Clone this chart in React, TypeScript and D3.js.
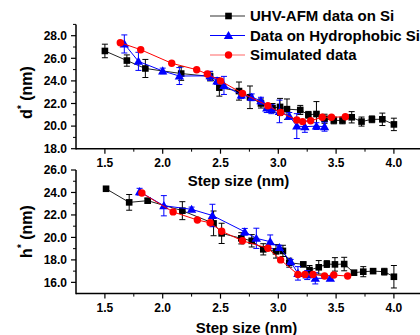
import React from "react";
import * as d3 from "d3";

// ---- Data ----
// Top panel (d*)
const topBlackX = [1.5, 1.69, 1.85, 2.16, 2.41, 2.49, 2.66, 2.755, 2.85, 2.95, 3.015, 3.075, 3.19, 3.26, 3.33, 3.4, 3.48, 3.555, 3.635, 3.72, 3.81, 3.9, 4.0];
const topBlackY = [26.65, 25.8, 25.1, 24.65, 24.4, 23.4, 23.1, 22.55, 22.0, 21.6, 21.7, 21.5, 21.43, 21.0, 21.07, 20.65, 20.5, 20.5, 20.78, 20.4, 20.6, 20.6, 20.15];
const topBlackE = [0.6, 0.5, 0.8, 0.6, 0.4, 0.75, 0.8, 1.0, 0.4, 0.4, 0.75, 0.9, 0.4, 0.3, 1.1, 0.4, 0.3, 0.3, 0.5, 0.4, 0.3, 0.55, 0.55];

const topBlueX = [1.668, 1.79, 2.0, 2.144, 2.41, 2.47, 2.53, 2.68, 2.77, 2.85, 2.9, 2.94, 3.01, 3.095, 3.16, 3.23, 3.33, 3.4];
const topBlueY = [27.27, 25.73, 24.88, 24.43, 24.45, 24.0, 23.6, 22.75, 22.55, 22.25, 21.6, 21.5, 21.3, 20.9, 20.0, 19.95, 20.0, 19.95];
const topBlueE = [0.8, 0.8, 0.25, 0.75, 0.4, 0.3, 0.8, 0.3, 0.3, 0.3, 0.4, 0.4, 1.0, 0.3, 1.1, 0.5, 0.3, 0.4];

const topRedX = [1.633, 1.81, 2.078, 2.294, 2.386, 2.5, 2.69, 2.91, 3.02, 3.16, 3.21, 3.28, 3.38, 3.46, 3.58];
const topRedY = [27.38, 26.76, 25.56, 24.99, 24.61, 24.0, 22.9, 21.8, 21.2, 20.54, 20.4, 20.48, 20.78, 20.78, 20.83];

// Bottom panel (h*)
const botBlackX = [1.51, 1.71, 1.87, 2.17, 2.44, 2.51, 2.68, 2.77, 2.87, 2.98, 3.04, 3.095, 3.216, 3.27, 3.35, 3.42, 3.49, 3.57, 3.655, 3.735, 3.82, 3.917, 4.0];
const botBlackY = [24.33, 23.12, 23.27, 22.38, 21.25, 20.36, 19.92, 19.7, 18.94, 18.76, 18.8, 17.75, 17.6, 17.1, 17.34, 17.63, 17.6, 17.63, 16.86, 16.95, 17.0, 16.95, 16.5];
const botBlackE = [0.15, 0.7, 0.2, 0.8, 1.1, 0.9, 0.5, 0.55, 0.5, 0.6, 0.5, 0.4, 0.2, 0.4, 0.6, 0.3, 0.6, 0.6, 0.2, 0.45, 0.2, 0.3, 1.0];

const botBlueX = [1.8, 2.01, 2.25, 2.43, 2.71, 2.81, 2.93, 3.01, 3.107, 3.17, 3.25, 3.32, 3.45];
const botBlueY = [24.07, 22.82, 22.5, 21.95, 20.5, 19.92, 19.62, 19.1, 17.84, 16.8, 16.65, 16.36, 16.36];
const botBlueE = [0.3, 0.9, 0.2, 1.0, 0.3, 0.9, 0.6, 0.2, 0.2, 0.6, 0.4, 0.5, 0.2];

const botRedX = [1.82, 2.09, 2.3, 2.41, 2.51, 2.69, 2.91, 3.02, 3.17, 3.23, 3.3, 3.4, 3.48, 3.6];
const botRedY = [23.95, 22.27, 21.55, 21.3, 20.55, 19.7, 19.04, 18.0, 16.7, 16.71, 16.71, 16.56, 16.65, 16.56];

const xTicks = [1.5, 2.0, 2.5, 3.0, 3.5, 4.0];
const xMinor = [1.75, 2.25, 2.75, 3.25, 3.75, 4.25];
const topYTicks = [18, 20, 22, 24, 26, 28];
const topYMinor = [19, 21, 23, 25, 27, 29];
const botYTicks = [16, 18, 20, 22, 24, 26];
const botYMinor = [17, 19, 21, 23, 25];

const legendLabels = ["UHV-AFM data on Si", "Data on Hydrophobic Si", "Simulated data"];
const legendColors = ["#000000", "#0000ff", "#ff0000"];

const FONT = "'Liberation Sans', Arial, sans-serif";

const xScale = d3.scaleLinear().domain([1.25, 4.25]).range([76, 422.8]);

type Pt = { x: number; y: number; e?: number };
const zip = (xs: number[], ys: number[], es?: number[]): Pt[] =>
  xs.map((x, i) => ({ x, y: ys[i], e: es ? es[i] : undefined }));

function Marker({ shape, cx, cy, color }: { shape: string; cx: number; cy: number; color: string }) {
  if (shape === "square") return <rect x={cx - 3.3} y={cy - 3.3} width={6.6} height={6.6} fill={color} />;
  if (shape === "triangle") {
    const p = d3.symbol().type(d3.symbolTriangle).size(38)();
    return <path d={p || ""} transform={`translate(${cx},${cy + 0.8})`} fill={color} />;
  }
  return <circle cx={cx} cy={cy} r={3.7} fill={color} />;
}

function Series({ pts, y, color, shape, lineColor }: { pts: Pt[]; y: d3.ScaleLinear<number, number>; color: string; shape: string; lineColor: string }) {
  const line = d3.line<Pt>().x((d) => xScale(d.x)).y((d) => y(d.y));
  return (
    <g>
      <path d={line(pts) || ""} fill="none" stroke={lineColor} strokeWidth={1} />
      {pts.map((p, i) =>
        p.e !== undefined ? (
          <g key={"e" + i} stroke={color} strokeWidth={1}>
            <line x1={xScale(p.x)} x2={xScale(p.x)} y1={y(p.y - p.e)} y2={y(p.y + p.e)} />
            <line x1={xScale(p.x) - 3} x2={xScale(p.x) + 3} y1={y(p.y - p.e)} y2={y(p.y - p.e)} />
            <line x1={xScale(p.x) - 3} x2={xScale(p.x) + 3} y1={y(p.y + p.e)} y2={y(p.y + p.e)} />
          </g>
        ) : null
      )}
      {pts.map((p, i) => (
        <Marker key={i} shape={shape} cx={xScale(p.x)} cy={y(p.y)} color={color} />
      ))}
    </g>
  );
}

function Panel({
  y, major, minor, letter, labelBaseline, titleBaseline, titleCx, yTitleCy,
  black, blue, red,
}: {
  y: d3.ScaleLinear<number, number>; major: number[]; minor: number[]; letter: string;
  labelBaseline: number; titleBaseline: number; titleCx: number; yTitleCy: number;
  black: Pt[]; blue: Pt[]; red: Pt[];
}) {
  const [y0, y1] = y.range();
  const x0 = xScale.range()[0];
  return (
    <g>
      <Series pts={black} y={y} color="#000" shape="square" lineColor="#222" />
      <Series pts={blue} y={y} color="#0000ff" shape="triangle" lineColor="#0000ff" />
      <Series pts={red} y={y} color="#ff0000" shape="circle" lineColor="#ff0000" />
      {/* axes */}
      <line x1={x0} x2={420} y1={y0} y2={y0} stroke="#000" strokeWidth={1.5} />
      <line x1={x0} x2={x0} y1={y0 + 0.75} y2={y1} stroke="#000" strokeWidth={1.5} />
      {major.map((t) => (
        <g key={"ym" + t}>
          <line x1={x0 - 5} x2={x0} y1={y(t)} y2={y(t)} stroke="#000" strokeWidth={1.2} />
          <text x={67} y={y(t) + 4.3} textAnchor="end" fontFamily={FONT} fontWeight="bold" fontSize={12}>
            {t.toFixed(1)}
          </text>
        </g>
      ))}
      {minor.map((t) => (
        <line key={"yn" + t} x1={x0 - 3} x2={x0} y1={y(t)} y2={y(t)} stroke="#000" strokeWidth={1} />
      ))}
      {xTicks.map((t) => (
        <g key={"xm" + t}>
          <line x1={xScale(t)} x2={xScale(t)} y1={y0} y2={y0 + 5} stroke="#000" strokeWidth={1.2} />
          <text x={xScale(t)} y={labelBaseline} textAnchor="middle" fontFamily={FONT} fontWeight="bold" fontSize={12}>
            {t.toFixed(1)}
          </text>
        </g>
      ))}
      {xMinor.map((t) => (
        <line key={"xn" + t} x1={xScale(t)} x2={xScale(t)} y1={y0} y2={y0 + 3} stroke="#000" strokeWidth={1} />
      ))}
      <text x={titleCx} y={titleBaseline} textAnchor="middle" fontFamily={FONT} fontWeight="bold" fontSize={15}>
        Step size (nm)
      </text>
      <text
        transform={`translate(31.5,${yTitleCy}) rotate(-90)`}
        textAnchor="middle"
        fontFamily={FONT}
        fontWeight="bold"
        fontSize={16}
      >
        {letter}
        <tspan dy={-7} fontSize={10}>*</tspan>
        <tspan dy={7}> (nm)</tspan>
      </text>
    </g>
  );
}

export default function App() {
  const yTop = d3.scaleLinear().domain([18, 29]).range([148.7, 24.4]);
  const yBot = d3.scaleLinear().domain([15, 26]).range([293.6, 170]);
  const legendShapes = ["square", "triangle", "circle"];
  const legendLine = ["#333", "#0000ff", "#ff6666"];
  return (
    <svg width={420} height={335} style={{ position: "absolute", left: 0, top: 0, background: "#fff" }}>
      <rect width={420} height={335} fill="#fff" />
      <Panel
        y={yTop} major={topYTicks} minor={topYMinor} letter="d"
        labelBaseline={167} titleBaseline={185.5} titleCx={238.5} yTitleCy={92.5}
        black={zip(topBlackX, topBlackY, topBlackE)}
        blue={zip(topBlueX, topBlueY, topBlueE)}
        red={zip(topRedX, topRedY)}
      />
      <Panel
        y={yBot} major={botYTicks} minor={botYMinor} letter="h"
        labelBaseline={311.5} titleBaseline={332.5} titleCx={246.5} yTitleCy={231.5}
        black={zip(botBlackX, botBlackY, botBlackE)}
        blue={zip(botBlueX, botBlueY, botBlueE)}
        red={zip(botRedX, botRedY)}
      />
      {legendLabels.map((lab, i) => {
        const cy = 16 + i * 19.5;
        return (
          <g key={lab}>
            <line x1={210} x2={245} y1={cy} y2={cy} stroke={legendLine[i]} strokeWidth={1.2} />
            <Marker shape={legendShapes[i]} cx={228.5} cy={cy} color={legendColors[i]} />
            <text x={250} y={cy + 5.4} fontFamily={FONT} fontWeight="bold" fontSize={15}>
              {lab}
            </text>
          </g>
        );
      })}
    </svg>
  );
}
